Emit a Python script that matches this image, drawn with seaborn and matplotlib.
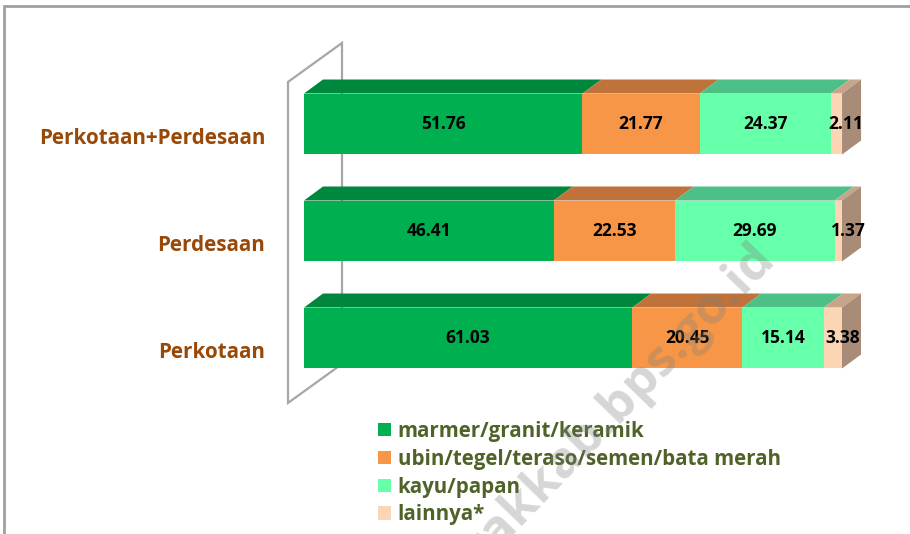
import matplotlib
matplotlib.use("Agg")
import matplotlib.pyplot as plt
from matplotlib.patches import Polygon, Patch, Rectangle
import seaborn as sns
import pandas as pd

# ---------------- data ----------------
categories = ["Perkotaan+Perdesaan", "Perdesaan", "Perkotaan"]
series_names = ["marmer/granit/keramik", "ubin/tegel/teraso/semen/bata merah",
                "kayu/papan", "lainnya*"]
marmer = [51.76, 46.41, 61.03]
ubin = [21.77, 22.53, 20.45]
kayu = [24.37, 29.69, 15.14]
lainnya = [2.11, 1.37, 3.38]
series_values = [marmer, ubin, kayu, lainnya]

front_colors = ["#00B050", "#F79646", "#66FFAA", "#FCD5B5"]
top_colors = ["#00873E", "#BF7239", "#4CC086", "#C6A58B"]
side_color = "#A98C78"

sns.set_theme(style="white")
plt.rcParams["font.family"] = ["Open Sans", "DejaVu Sans"]

W, H = 910, 534
fig = plt.figure(figsize=(W / 100, H / 100), dpi=100)

# axes geometry (pixels)
X0_PX, PXU_X = 304, 5.38     # x=0 at 304px, 5.38 px per percent
Y0_PX, PXU_Y = 124, 107      # first category center, px per category
xlim = (-5, 110)
ylim = (2.75, -0.85)
left_px = X0_PX + xlim[0] * PXU_X
right_px = X0_PX + xlim[1] * PXU_X
top_px = Y0_PX + ylim[1] * PXU_Y
bot_px = Y0_PX + ylim[0] * PXU_Y
ax = fig.add_axes([left_px / W, 1 - bot_px / H, (right_px - left_px) / W,
                   (bot_px - top_px) / H])

# depth offsets in data units
DX_PX, DY_PX = 19, 14
dx = DX_PX / PXU_X
dy = DY_PX / PXU_Y
bar_h = 0.57

# ----- wall (drawn behind) -----
WALL_DX, WALL_DY = 54 / PXU_X, 39 / PXU_Y
wx0 = -16 / PXU_X
wy_top, wy_bot = -0.393, 2.607
wall = Polygon([(wx0, wy_top), (wx0 + WALL_DX, wy_top - WALL_DY),
                (wx0 + WALL_DX, wy_bot - WALL_DY), (wx0, wy_bot)],
               closed=True, facecolor="white", edgecolor="#A6A6A6", lw=1.6, zorder=0.5)
ax.add_patch(wall)

# ----- stacked front faces via seaborn -----
df = pd.DataFrame({"cat": categories})
cum = [0, 0, 0]
cums = []
for vals in series_values:
    start = list(cum)
    cum = [c + v for c, v in zip(cum, vals)]
    cums.append((start, list(cum)))
    df[f"cum{len(cums)}"] = cum

for j in reversed(range(len(series_values))):
    sns.barplot(data=df, y="cat", x=f"cum{j+1}", order=categories, orient="h",
                color=front_colors[j], saturation=1, width=bar_h, ax=ax,
                edgecolor="none", linewidth=0, zorder=2)

# ----- top and side faces -----
for i in range(len(categories)):
    yt = i - bar_h / 2
    yb = i + bar_h / 2
    for j in range(len(series_values)):
        x0, x1 = cums[j][0][i], cums[j][1][i]
        ax.add_patch(Polygon([(x0, yt), (x1, yt), (x1 + dx, yt - dy), (x0 + dx, yt - dy)],
                             closed=True, facecolor=top_colors[j], edgecolor="none", zorder=2))
    xe = cums[-1][1][i]
    ax.add_patch(Polygon([(xe, yt), (xe + dx, yt - dy), (xe + dx, yb - dy), (xe, yb)],
                         closed=True, facecolor=side_color, edgecolor="none", zorder=2))

# ----- value labels -----
for i in range(len(categories)):
    for j, vals in enumerate(series_values):
        x0, x1 = cums[j][0][i], cums[j][1][i]
        if j == len(series_values) - 1:
            xc = x0 + (x1 - x0 + dx) / 2
        else:
            xc = (x0 + x1) / 2
        ax.text(xc, i, f"{vals[i]:.2f}", ha="center", va="center", fontsize=12.5,
                fontweight="bold", color="black", zorder=5)

ax.set_xlim(*xlim)
ax.set_ylim(*ylim)
ax.set_xlabel("")
ax.set_ylabel("")
ax.set_xticks([])
# category labels sit slightly lower (3-D floor offset)
ax.set_yticks([i + 12 / PXU_Y for i in range(len(categories))])
ax.set_yticklabels(categories)
ax.tick_params(axis="y", length=0, pad=8.6, labelsize=14.9, labelcolor="#984807")
for t in ax.get_yticklabels():
    t.set_fontweight("bold")
for s in ax.spines.values():
    s.set_visible(False)
ax.patch.set_alpha(0)

# ----- legend -----
handles = [Patch(facecolor=c, edgecolor="none") for c in front_colors]
fig.legend(handles, series_names, loc="upper left",
           bbox_to_anchor=(378 / W, 1 - 421 / H), frameon=False,
           prop={"weight": "bold", "size": 14.8}, labelcolor="#4F6228",
           handlelength=0.63, handleheight=0.63, handletextpad=0.33,
           labelspacing=0.33, borderpad=0, borderaxespad=0)

# ----- frame -----
fig.patches.append(Rectangle((4 / W, -0.5), 2, 1.5 - 6 / H, transform=fig.transFigure,
                             fill=False, edgecolor="#A0A0A0", lw=2))

# ----- watermark -----
fig.text(597 / W, 1 - 426 / H, "barakkab.bps.go.id", rotation=46, rotation_mode="anchor",
         ha="center", va="center", fontsize=37, fontweight="bold", color="gray",
         alpha=0.32, zorder=10)

fig.savefig("out.png", dpi=100)
